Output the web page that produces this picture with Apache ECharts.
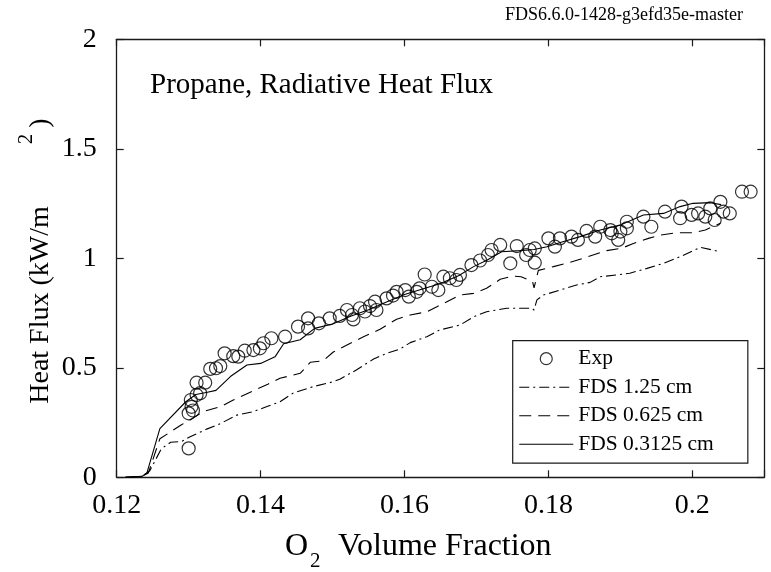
<!DOCTYPE html>
<html>
<head>
<meta charset="utf-8">
<script src="https://cdn.jsdelivr.net/npm/echarts@6/dist/echarts.min.js"></script>
<style>
html,body{margin:0;padding:0;background:#fff;}
#chart{width:771px;height:572px;}
</style>
</head>
<body>
<div id="chart"></div>
<script>
// ---- data ----
var xTicks = [0.12, 0.14, 0.16, 0.18, 0.2];
var yTicks = [0, 0.5, 1, 1.5, 2];

var expX = [0.1300,0.1300,0.1304,0.1306,0.1303,0.1311,0.1316,0.1311,0.1323,0.1330,0.1338,0.1344,0.1350,0.1362,0.1369,0.1378,0.1390,0.1399,0.1404,0.1415,0.1434,0.1452,0.1466,0.1466,0.1481,0.1496,0.1510,0.1520,0.1527,0.1529,0.1538,0.1545,0.1552,0.1559,0.1561,0.1575,0.1584,0.1589,0.1601,0.1606,0.1617,0.1621,0.1628,0.1638,0.1647,0.1654,0.1663,0.1672,0.1677,0.1693,0.1705,0.1716,0.1721,0.1733,0.1747,0.1756,0.1769,0.1774,0.1781,0.1781,0.1800,0.1809,0.1816,0.1832,0.1841,0.1853,0.1865,0.1872,0.1886,0.1888,0.1897,0.1900,0.1909,0.1909,0.1932,0.1943,0.1962,0.1983,0.1985,0.1999,0.2008,0.2018,0.2025,0.2031,0.2039,0.2043,0.2052,0.2069,0.2081];
var expY = [0.132,0.292,0.322,0.305,0.353,0.376,0.384,0.432,0.432,0.495,0.498,0.508,0.566,0.553,0.551,0.578,0.581,0.589,0.612,0.635,0.642,0.688,0.726,0.680,0.703,0.726,0.737,0.764,0.741,0.721,0.772,0.757,0.782,0.802,0.764,0.817,0.830,0.847,0.855,0.825,0.847,0.863,0.926,0.870,0.855,0.916,0.909,0.901,0.924,0.969,0.990,1.015,1.038,1.061,0.977,1.056,1.015,1.038,1.045,0.980,1.091,1.053,1.091,1.099,1.084,1.125,1.099,1.144,1.129,1.114,1.084,1.122,1.137,1.167,1.190,1.144,1.213,1.183,1.236,1.198,1.205,1.190,1.228,1.175,1.258,1.213,1.205,1.304,1.304];

var fds125X = [0.1212,0.1235,0.1246,0.1262,0.1275,0.1290,0.1302,0.1325,0.1344,0.1367,0.1390,0.1408,0.1427,0.1445,0.1473,0.1496,0.1510,0.1533,0.1557,0.1575,0.1594,0.1608,0.1631,0.1649,0.1677,0.1696,0.1714,0.1742,0.1777,0.1780,0.1784,0.1793,0.1816,0.1839,0.1858,0.1872,0.1895,0.1913,0.1937,0.1960,0.1983,0.2011,0.2039];
var fds125Y = [0,0.004,0.030,0.130,0.160,0.163,0.185,0.220,0.245,0.284,0.300,0.322,0.345,0.384,0.414,0.432,0.448,0.490,0.540,0.566,0.586,0.615,0.642,0.673,0.695,0.733,0.756,0.772,0.772,0.764,0.810,0.832,0.855,0.878,0.890,0.916,0.924,0.932,0.954,0.977,1.007,1.050,1.030];

var fds0625X = [0.1212,0.1235,0.1244,0.1260,0.1290,0.1302,0.1320,0.1344,0.1362,0.1390,0.1410,0.1427,0.1455,0.1469,0.1487,0.1501,0.1520,0.1543,0.1566,0.1589,0.1608,0.1631,0.1645,0.1677,0.1696,0.1714,0.1733,0.1751,0.1762,0.1778,0.1780,0.1786,0.1807,0.1825,0.1848,0.1862,0.1881,0.1902,0.1918,0.1939,0.1955,0.1978,0.2001,0.2018,0.2039];
var fds0625Y = [0,0.004,0.020,0.176,0.240,0.262,0.300,0.322,0.353,0.395,0.425,0.452,0.475,0.525,0.532,0.572,0.604,0.642,0.676,0.722,0.741,0.756,0.779,0.832,0.840,0.863,0.904,0.919,0.916,0.893,0.865,0.945,0.962,0.977,1.000,1.015,1.035,1.046,1.068,1.091,1.106,1.117,1.117,1.129,1.160];

var fds03125X = [0.1212,0.1235,0.1242,0.1260,0.1296,0.1310,0.1326,0.1338,0.1358,0.1381,0.1400,0.1420,0.1432,0.1455,0.1475,0.1500,0.1525,0.1550,0.1575,0.1600,0.1625,0.1650,0.1675,0.1696,0.1715,0.1735,0.1760,0.1780,0.1798,0.1820,0.1844,0.1872,0.1900,0.1932,0.1960,0.1983,0.2001,0.2025,0.2040];
var fds03125Y = [0,0.004,0.020,0.222,0.345,0.378,0.388,0.397,0.460,0.513,0.520,0.550,0.610,0.628,0.680,0.700,0.735,0.765,0.800,0.835,0.860,0.885,0.920,0.962,0.992,1.030,1.035,1.040,1.053,1.076,1.099,1.129,1.152,1.198,1.205,1.236,1.251,1.254,1.245];

var seriesNames = ['Exp', 'FDS 1.25 cm', 'FDS 0.625 cm', 'FDS 0.3125 cm'];
var titleText = 'Propane, Radiative Heat Flux';
var versionText = 'FDS6.6.0-1428-g3efd35e-master';

function zip(a, b) { return a.map(function (v, i) { return [v, b[i]]; }); }

var FONT = '"Liberation Serif", "Times New Roman", serif';
var AX = '#1a1a1a';
var TICK_LEN = 7;
var dashDot = [10, 4, 2, 4];
var dashed = [12, 7];
var noSymbol = {color: 'rgba(0,0,0,0)', borderWidth: 0, opacity: 0};

// frame axis: line only (plus labels for bottom/left)
function frameAxis(pos, min, max, interval, label) {
  return {
    type: 'value', min: min, max: max, interval: interval, position: pos,
    axisLine: {show: true, onZero: false, lineStyle: {color: AX, width: 1.3}},
    axisTick: {show: false},
    splitLine: {show: false},
    axisLabel: label || {show: false}
  };
}
// tick axis: shifted into the plot by the tick length, ticks pointing back to the frame
function tickAxis(pos, min, max, interval) {
  return {
    type: 'value', min: min, max: max, interval: interval, position: pos, offset: -TICK_LEN,
    axisLine: {show: false, onZero: false},
    axisTick: {show: true, inside: false, length: TICK_LEN, lineStyle: {color: AX, width: 1.2}},
    splitLine: {show: false},
    axisLabel: {show: false}
  };
}

var xLabel = {show: true, margin: 14, color: '#000', fontFamily: FONT, fontSize: 28,
  formatter: function (v) { return xTicks.some(function (t) { return Math.abs(t - v) < 1e-9; }) ? String(v) : ''; }};
var yLabel = {show: true, margin: 20, color: '#000', fontFamily: FONT, fontSize: 28};

var chart = echarts.init(document.getElementById('chart'), null, {renderer: 'canvas'});

var option = {
  backgroundColor: '#fff',
  animation: false,
  grid: {left: 116.7, right: 6.7, top: 39.3, bottom: 94.7},
  xAxis: [
    frameAxis('bottom', xTicks[0], 0.21, 0.02, xLabel),
    frameAxis('top', xTicks[0], 0.21, 0.02),
    tickAxis('bottom', xTicks[0], 0.21, 0.02),
    tickAxis('top', xTicks[0], 0.21, 0.02)
  ],
  yAxis: [
    frameAxis('left', yTicks[0], 2, 0.5, yLabel),
    frameAxis('right', yTicks[0], 2, 0.5),
    tickAxis('left', yTicks[0], 2, 0.5),
    tickAxis('right', yTicks[0], 2, 0.5)
  ],
  legend: {
    orient: 'vertical', left: 512.7, top: 340.7,
    borderColor: AX, borderWidth: 1.2, backgroundColor: '#fff',
    padding: [7, 34, 8, 6], itemWidth: 54, itemHeight: 12, itemGap: 6.5,
    textStyle: {fontFamily: FONT, fontSize: 21.5, color: '#000'},
    data: [
      {name: seriesNames[0], itemStyle: {color: 'rgba(0,0,0,0)', borderColor: '#000', borderWidth: 1.2}},
      {name: seriesNames[1], itemStyle: noSymbol, lineStyle: {color: '#000', width: 1.1, type: dashDot}},
      {name: seriesNames[2], itemStyle: noSymbol, lineStyle: {color: '#000', width: 1.1, type: dashed}},
      {name: seriesNames[3], itemStyle: noSymbol, lineStyle: {color: '#000', width: 1.1, type: 'solid'}}
    ]
  },
  series: [
    {name: seriesNames[1], type: 'line', xAxisIndex: 0, yAxisIndex: 0, data: zip(fds125X, fds125Y), symbol: 'none', showSymbol: false,
      lineStyle: {color: '#000', width: 1.1, type: dashDot}, itemStyle: {color: '#000'}},
    {name: seriesNames[2], type: 'line', xAxisIndex: 0, yAxisIndex: 0, data: zip(fds0625X, fds0625Y), symbol: 'none', showSymbol: false,
      lineStyle: {color: '#000', width: 1.1, type: dashed}, itemStyle: {color: '#000'}},
    {name: seriesNames[3], type: 'line', xAxisIndex: 0, yAxisIndex: 0, data: zip(fds03125X, fds03125Y), symbol: 'none', showSymbol: false,
      lineStyle: {color: '#000', width: 1.1, type: 'solid'}, itemStyle: {color: '#000'}},
    {name: seriesNames[0], type: 'scatter', xAxisIndex: 0, yAxisIndex: 0, data: zip(expX, expY), symbol: 'circle', symbolSize: 13,
      itemStyle: {color: 'rgba(0,0,0,0)', borderColor: '#000', borderWidth: 1.2}, z: 3}
  ],
  graphic: [
    {type: 'text', left: 505, top: 6, style: {text: versionText, font: '18px ' + FONT, fill: '#000'}},
    {type: 'text', left: 150, top: 71, style: {text: titleText, font: '29px ' + FONT, fill: '#000'}},
    // y-axis title with superscript
    {type: 'text', x: 41, y: 305, rotation: Math.PI / 2,
      style: {text: 'Heat Flux (kW/m', font: '28px ' + FONT, fill: '#000', align: 'center', verticalAlign: 'middle'}},
    {type: 'text', x: 26, y: 139, rotation: Math.PI / 2,
      style: {text: '2', font: '21px ' + FONT, fill: '#000', align: 'center', verticalAlign: 'middle'}},
    {type: 'text', x: 41, y: 123, rotation: Math.PI / 2,
      style: {text: ')', font: '28px ' + FONT, fill: '#000', align: 'center', verticalAlign: 'middle'}},
    // x-axis title with subscript
    {type: 'text', left: 285, top: 531, style: {text: 'O', font: '32px ' + FONT, fill: '#000'}},
    {type: 'text', left: 310, top: 551, style: {text: '2', font: '21px ' + FONT, fill: '#000'}},
    {type: 'text', left: 338, top: 531, style: {text: 'Volume Fraction', font: '32px ' + FONT, fill: '#000'}}
  ]
};
chart.setOption(option);
</script>
</body>
</html>
